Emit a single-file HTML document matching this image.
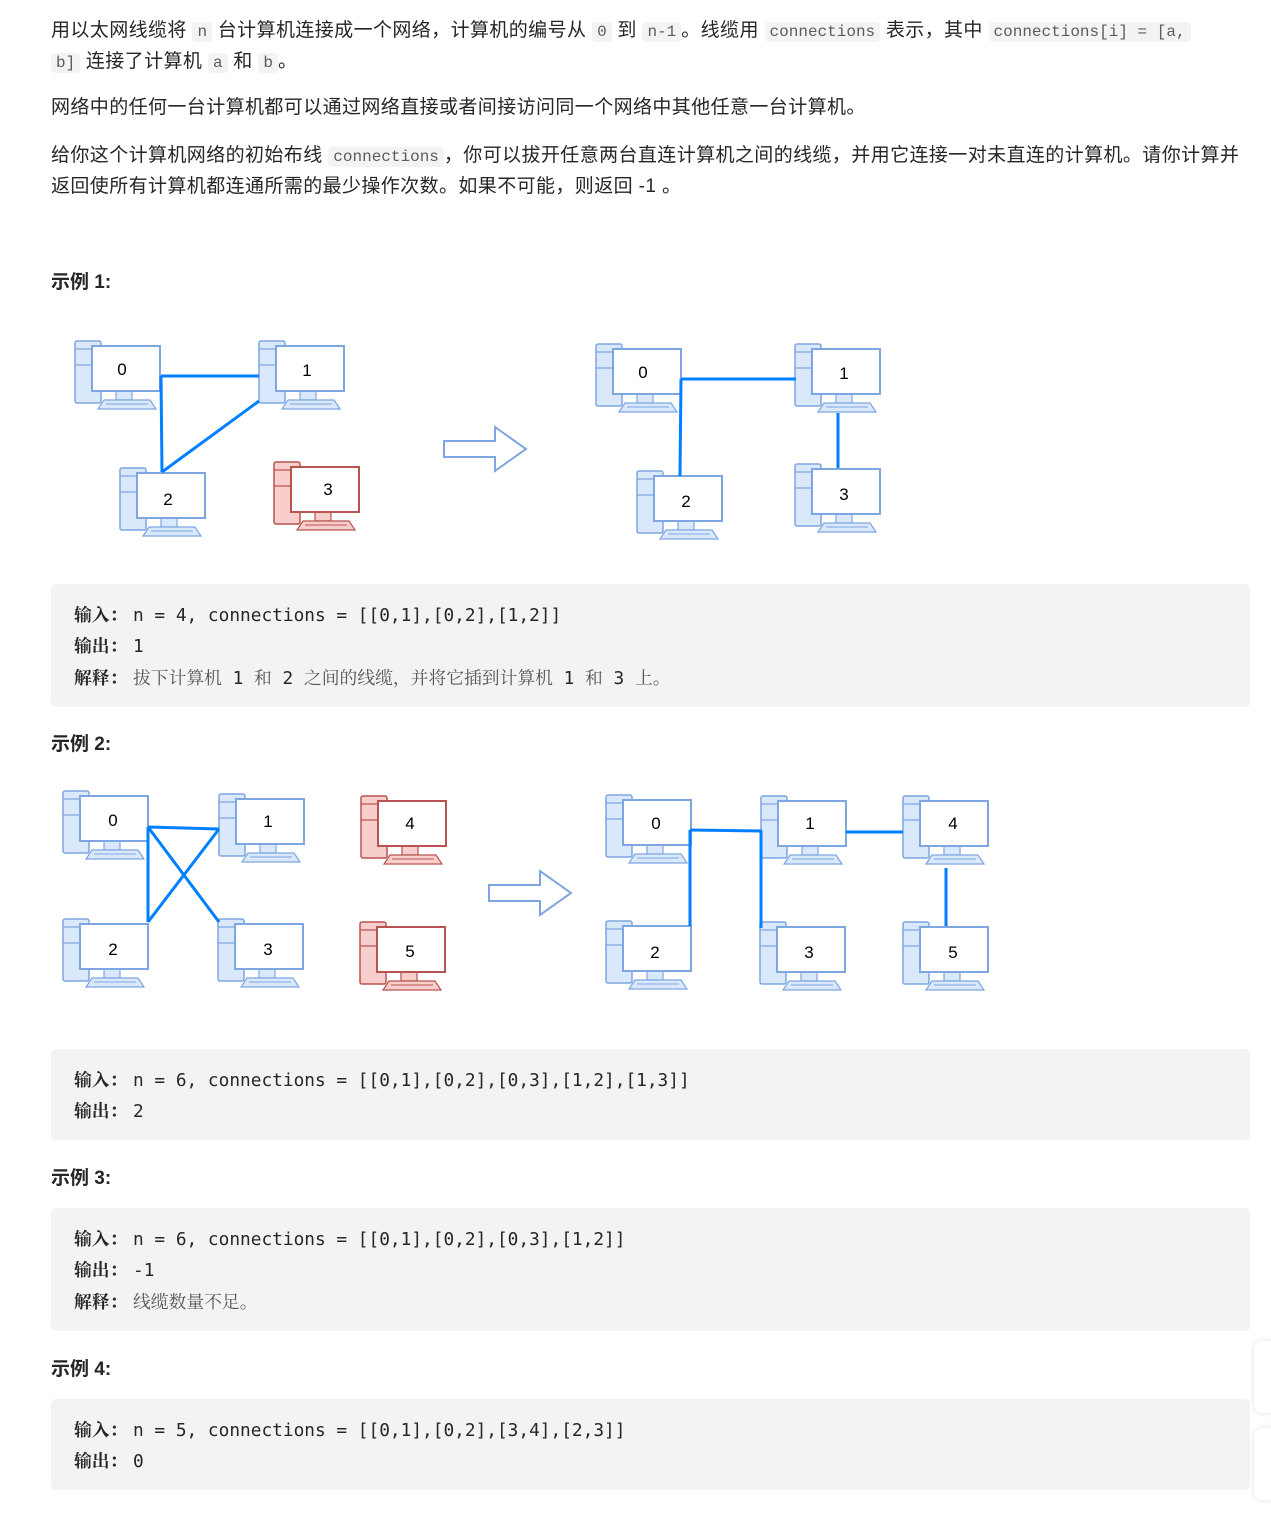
<!DOCTYPE html>
<html><head><meta charset="utf-8">
<style>
body{margin:0;width:1271px;height:1525px;background:#fff;position:relative;overflow:hidden;font-family:"Liberation Sans","Noto Sans CJK SC",sans-serif;color:#262626}
.p{position:absolute;left:51px;font-size:19px;letter-spacing:0.4px;line-height:29px;width:1205px}
code{font-family:"Liberation Mono","Noto Sans CJK SC",monospace;font-size:16px;letter-spacing:0;color:#5c5c5c;background:#f2f3f5;border-radius:4px;padding:1px 5px}
.h{position:absolute;left:51px;font-size:19px;font-weight:bold;color:#262626}
.cb{position:absolute;left:51px;width:1199px;background:#f2f3f5;border-radius:5px}
.cl{position:absolute;left:23px;font-family:"DejaVu Sans Mono","Noto Sans CJK SC",monospace;font-size:17.8px;white-space:pre;color:#262626}
.cl b{font-family:"Noto Serif CJK SC",serif;font-weight:bold;display:inline-block;width:59px}
.cl i{font-style:normal;font-family:"Noto Serif CJK SC",serif;color:#555}
.side{position:absolute;left:1254px;width:30px;background:#fff;border-radius:8px;box-shadow:0 0 6px rgba(0,0,0,.12)}
</style></head><body>
<div class="p" style="top:16px">用以太网线缆将 <code>n</code> 台计算机连接成一个网络，计算机的编号从 <code>0</code> 到 <code>n-1</code>。线缆用 <code>connections</code> 表示，其中 <code>connections[i] = [a,</code><br><code>b]</code> 连接了计算机 <code>a</code> 和 <code>b</code>。</div>
<div class="p" style="top:93px">网络中的任何一台计算机都可以通过网络直接或者间接访问同一个网络中其他任意一台计算机。</div>
<div class="p" style="top:141px">给你这个计算机网络的初始布线 <code>connections</code>，你可以拔开任意两台直连计算机之间的线缆，并用它连接一对未直连的计算机。请你计算并返回使所有计算机都连通所需的最少操作次数。如果不可能，则返回 -1 。</div>
<div class="h" style="top:267px">示例 1:</div>
<div class="h" style="top:729px">示例 2:</div>
<div class="h" style="top:1163px">示例 3:</div>
<div class="h" style="top:1354px">示例 4:</div>

<div class="cb" style="top:584px;height:123px">
<div class="cl" style="top:18px"><b>输入：</b>n = 4, connections = [[0,1],[0,2],[1,2]]</div>
<div class="cl" style="top:49px"><b>输出：</b>1</div>
<div class="cl" style="top:81px"><b>解释：</b><i>拔下计算机</i> 1 <i>和</i> 2 <i>之间的线缆，并将它插到计算机</i> 1 <i>和</i> 3 <i>上。</i></div>
</div>
<div class="cb" style="top:1049px;height:91px">
<div class="cl" style="top:18px"><b>输入：</b>n = 6, connections = [[0,1],[0,2],[0,3],[1,2],[1,3]]</div>
<div class="cl" style="top:49px"><b>输出：</b>2</div>
</div>
<div class="cb" style="top:1208px;height:123px">
<div class="cl" style="top:18px"><b>输入：</b>n = 6, connections = [[0,1],[0,2],[0,3],[1,2]]</div>
<div class="cl" style="top:49px"><b>输出：</b>-1</div>
<div class="cl" style="top:81px"><b>解释：</b><i>线缆数量不足。</i></div>
</div>
<div class="cb" style="top:1399px;height:91px">
<div class="cl" style="top:18px"><b>输入：</b>n = 5, connections = [[0,1],[0,2],[3,4],[2,3]]</div>
<div class="cl" style="top:49px"><b>输出：</b>0</div>
</div>
<div class="side" style="top:1341px;height:72px"></div>
<div class="side" style="top:1428px;height:72px"></div>

<svg width="1271" height="1525" style="position:absolute;left:0;top:0" xmlns="http://www.w3.org/2000/svg">
<defs>
<g id="pcb">
<rect x="-17" y="-5" width="26" height="62" rx="2" fill="#dae8fc" stroke="#7ea6e0" stroke-width="1.5"/>
<line x1="-17" y1="3" x2="0" y2="3" stroke="#7ea6e0" stroke-width="1.2"/>
<line x1="-17" y1="19" x2="0" y2="19" stroke="#7ea6e0" stroke-width="1.2"/>
<rect x="24" y="45" width="16" height="9" fill="#dae8fc" stroke="#7ea6e0" stroke-width="1.2"/>
<polygon points="6,63 64,63 58,54 12,54" fill="#dae8fc" stroke="#7ea6e0" stroke-width="1.2"/>
<line x1="14" y1="58" x2="56" y2="58" stroke="#7ea6e0"/>
<rect x="0" y="0" width="68" height="45" fill="#fff" stroke="#7ea6e0" stroke-width="2"/>
</g>
<g id="pcr">
<rect x="-17" y="-5" width="26" height="62" rx="2" fill="#f8cecc" stroke="#b85450" stroke-width="1.5"/>
<line x1="-17" y1="3" x2="0" y2="3" stroke="#b85450" stroke-width="1.2"/>
<line x1="-17" y1="19" x2="0" y2="19" stroke="#b85450" stroke-width="1.2"/>
<rect x="24" y="45" width="16" height="9" fill="#f8cecc" stroke="#b85450" stroke-width="1.2"/>
<polygon points="6,63 64,63 58,54 12,54" fill="#f8cecc" stroke="#b85450" stroke-width="1.2"/>
<line x1="14" y1="58" x2="56" y2="58" stroke="#b85450"/>
<rect x="0" y="0" width="68" height="45" fill="#fff" stroke="#b85450" stroke-width="2"/>
</g>
</defs>
<g font-family="Liberation Sans,sans-serif" font-size="17" text-anchor="middle" fill="#000">
<use href="#pcb" x="92" y="346"/><text x="122" y="375">0</text>
<use href="#pcb" x="276" y="346"/><text x="307" y="376">1</text>
<use href="#pcb" x="137" y="473"/><text x="168" y="505">2</text>
<use href="#pcr" x="291" y="467"/><text x="328" y="495">3</text>
<use href="#pcb" x="613" y="349"/><text x="643" y="378">0</text>
<use href="#pcb" x="812" y="349"/><text x="844" y="379">1</text>
<use href="#pcb" x="654" y="476"/><text x="686" y="507">2</text>
<use href="#pcb" x="812" y="469"/><text x="844" y="500">3</text>
<use href="#pcb" x="80" y="796"/><text x="113" y="826">0</text>
<use href="#pcb" x="236" y="799"/><text x="268" y="827">1</text>
<use href="#pcr" x="378" y="801"/><text x="410" y="829">4</text>
<use href="#pcb" x="80" y="924"/><text x="113" y="955">2</text>
<use href="#pcb" x="235" y="924"/><text x="268" y="955">3</text>
<use href="#pcr" x="377" y="927"/><text x="410" y="957">5</text>
<use href="#pcb" x="623" y="800"/><text x="656" y="829">0</text>
<use href="#pcb" x="778" y="801"/><text x="810" y="829">1</text>
<use href="#pcb" x="920" y="801"/><text x="953" y="829">4</text>
<use href="#pcb" x="623" y="926"/><text x="655" y="958">2</text>
<use href="#pcb" x="777" y="927"/><text x="809" y="958">3</text>
<use href="#pcb" x="920" y="927"/><text x="953" y="958">5</text>
</g>
<g stroke="#007fff" stroke-width="3" fill="none">
<line x1="161" y1="376" x2="259" y2="376"/><line x1="161" y1="376" x2="162" y2="472"/><line x1="162" y1="472" x2="259" y2="401"/>
<line x1="681" y1="379" x2="796" y2="379"/><line x1="681" y1="379" x2="680" y2="476"/><line x1="838" y1="413" x2="838" y2="468"/>
<line x1="148" y1="827" x2="219" y2="829"/><line x1="148" y1="827" x2="148" y2="922"/><line x1="148" y1="827" x2="219" y2="922"/><line x1="219" y1="829" x2="148" y2="922"/>
<line x1="690" y1="830" x2="762" y2="831"/><line x1="690" y1="830" x2="690" y2="926"/><line x1="761" y1="831" x2="761" y2="928"/><line x1="846" y1="832" x2="903" y2="832"/><line x1="946" y1="868" x2="946" y2="926"/>
</g>
<g fill="#fff" stroke="#7ea6e0" stroke-width="2">
<polygon points="444,441 495,441 495,427 526,449 495,471 495,457 444,457"/>
<polygon points="489,885 540,885 540,871 571,893 540,915 540,901 489,901"/>
</g>
</svg>
</body></html>
